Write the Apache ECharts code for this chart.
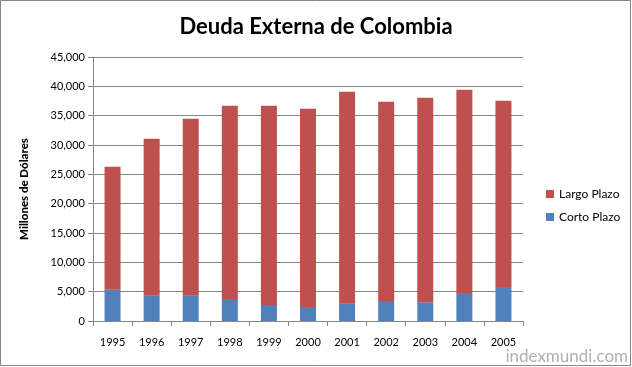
<!DOCTYPE html>
<html>
<head>
<meta charset="utf-8">
<script src="https://cdn.jsdelivr.net/npm/echarts@6/dist/echarts.min.js"></script>
<style>
html,body{margin:0;padding:0;background:#fff;}
#c{width:632px;height:367px;}
</style>
</head>
<body>
<div id="c"></div>
<script>
var years = ['1995','1996','1997','1998','1999','2000','2001','2002','2003','2004','2005'];
var cortoPlazo = [5340, 4320, 4320, 3750, 2730, 2390, 2960, 3410, 3190, 4780, 5800];
var largoPlazo = [20940, 26740, 30150, 32940, 33960, 33790, 36120, 33960, 34860, 34640, 31740];
var yTicks = {min: 0, max: 45000, interval: 5000};

var chart = echarts.init(document.getElementById('c'));
var font = 'Lato, "Open Sans", sans-serif';
chart.setOption({
  backgroundColor: '#fff',
  animation: false,
  title: {
    text: 'Deuda Externa de Colombia',
    left: 'center',
    top: 11,
    textStyle: {fontFamily: font, fontSize: 22, fontWeight: 'bold', color: '#000'}
  },
  legend: {
    orient: 'vertical',
    left: 541,
    top: 183,
    itemWidth: 8,
    itemHeight: 8,
    itemGap: 11,
    icon: 'rect',
    data: ['Largo Plazo', 'Corto Plazo'],
    textStyle: {fontFamily: font, fontSize: 12, color: '#000'}
  },
  grid: {left: 93, right: 109, top: 57, bottom: 46},
  xAxis: {
    type: 'category',
    data: years,
    axisLine: {lineStyle: {color: '#868686'}},
    axisTick: {show: true, length: 5, lineStyle: {color: '#868686'}},
    axisLabel: {fontFamily: font, fontSize: 11, color: '#000', margin: 16}
  },
  yAxis: {
    type: 'value',
    min: yTicks.min, max: yTicks.max, interval: yTicks.interval,
    name: 'Millones de Dólares',
    nameLocation: 'middle',
    nameGap: 63,
    nameTextStyle: {fontFamily: font, fontSize: 11.5, fontWeight: 900, color: '#000'},
    axisLine: {show: true, lineStyle: {color: '#868686'}},
    axisTick: {show: true, length: 5, lineStyle: {color: '#868686'}},
    splitLine: {lineStyle: {color: '#868686'}},
    axisLabel: {
      fontFamily: font, fontSize: 11, color: '#000', margin: 8,
      formatter: function (v) { return v.toLocaleString('en-US'); }
    }
  },
  series: [
    {name: 'Corto Plazo', type: 'bar', stack: 't', data: cortoPlazo, barWidth: 16,
     itemStyle: {color: '#4F81BD'}},
    {name: 'Largo Plazo', type: 'bar', stack: 't', data: largoPlazo, barWidth: 16,
     itemStyle: {color: '#C0504D'}}
  ],
  graphic: [
    {type: 'rect', shape: {x: 0.5, y: 0.5, width: 630, height: 365}, silent: true,
     style: {fill: 'none', stroke: '#868686', lineWidth: 1}},
    {type: 'text', right: 4, bottom: 2, silent: true,
     style: {text: 'indexmundi.com', font: '17px ' + font, fill: '#b0b0b0'}}
  ]
});
</script>
</body>
</html>
